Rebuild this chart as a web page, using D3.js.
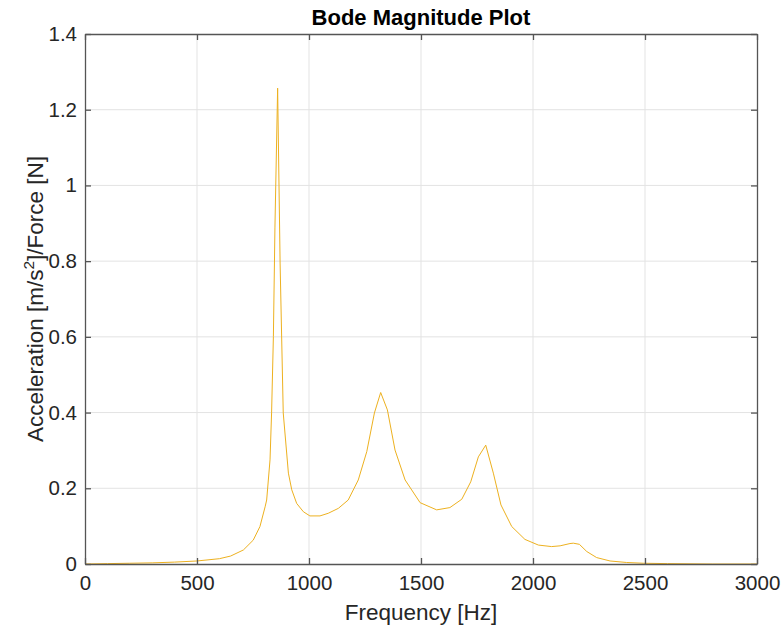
<!DOCTYPE html>
<html>
<head>
<meta charset="utf-8">
<script src="https://cdn.jsdelivr.net/npm/d3@7"></script>
<style>
  html, body { margin: 0; padding: 0; background: #fff; }
  #showBox { width: 782px; height: 634px; }
  text { font-family: "Liberation Sans", Arial, Helvetica, sans-serif; fill: #262626; }
</style>
</head>
<body>
<div id="showBox"></div>
<script>
// frequency samples [Hz] and response magnitude
const freq = [0, 100, 200, 300, 400, 500, 600, 650, 707, 751, 781, 804, 811, 826, 833, 841, 848, 860,
  871, 885, 908, 923, 945, 975, 1004, 1049, 1086, 1131, 1175, 1220, 1258, 1292, 1320, 1350, 1384, 1429,
  1496, 1570, 1629, 1682, 1722, 1756, 1789, 1823, 1857, 1905, 1964, 2024, 2083, 2121, 2165, 2180, 2207,
  2240, 2284, 2344, 2418, 2492, 2600, 2800, 3000];
const mag = [0.000, 0.001, 0.002, 0.003, 0.005, 0.008, 0.014, 0.021, 0.037, 0.063, 0.099, 0.151, 0.169, 0.275, 0.399, 0.600, 0.890, 1.257,
  0.795, 0.399, 0.240, 0.196, 0.160, 0.138, 0.127, 0.127, 0.134, 0.147, 0.169, 0.222, 0.297, 0.399, 0.453, 0.407, 0.301, 0.222,
  0.162, 0.143, 0.149, 0.171, 0.217, 0.283, 0.314, 0.240, 0.156, 0.099, 0.065, 0.050, 0.046, 0.048, 0.054, 0.055, 0.052,
  0.033, 0.017, 0.008, 0.004, 0.002, 0.001, 0.000, 0.000];

const xTicks = [0, 500, 1000, 1500, 2000, 2500, 3000];
const yTicks = [0, 0.2, 0.4, 0.6, 0.8, 1, 1.2, 1.4];

const title = "Bode Magnitude Plot";
const xLabel = "Frequency [Hz]";

const width = 782, height = 634;
const margin = {top: 34, right: 25, bottom: 70, left: 85};

const x = d3.scaleLinear().domain([0, 3000]).range([margin.left, width - margin.right]);
const y = d3.scaleLinear().domain([0, 1.4]).range([height - margin.bottom, margin.top]);

const svg = d3.select("#showBox").append("svg")
    .attr("width", width)
    .attr("height", height);

// grid
svg.append("g")
    .selectAll("line.gx")
    .data(xTicks.slice(1, -1))
    .join("line")
    .attr("x1", d => x(d)).attr("x2", d => x(d))
    .attr("y1", y(0)).attr("y2", y(1.4))
    .attr("stroke", "#e3e3e3").attr("stroke-width", 1);

svg.append("g")
    .selectAll("line.gy")
    .data(yTicks.slice(1, -1))
    .join("line")
    .attr("x1", x(0)).attr("x2", x(3000))
    .attr("y1", d => y(d)).attr("y2", d => y(d))
    .attr("stroke", "#e3e3e3").attr("stroke-width", 1);

// the curve
const line = d3.line()
    .x((d, i) => x(freq[i]))
    .y(d => y(d));

svg.append("path")
    .datum(mag)
    .attr("fill", "none")
    .attr("stroke", "#EDB120")
    .attr("stroke-width", 1)
    .attr("stroke-linejoin", "round")
    .attr("d", line);

// axes, MATLAB style box with inward ticks
const axisColor = "#555";
const tickLen = 6;

const xBottom = svg.append("g")
    .attr("transform", `translate(0,${y(0)})`)
    .call(d3.axisBottom(x).tickValues(xTicks).tickSizeInner(-tickLen).tickSizeOuter(0).tickPadding(11)
        .tickFormat(d => String(d)));

const xTop = svg.append("g")
    .attr("transform", `translate(0,${y(1.4)})`)
    .call(d3.axisTop(x).tickValues(xTicks).tickSizeInner(-tickLen).tickSizeOuter(0).tickFormat(""));

const yLeft = svg.append("g")
    .attr("transform", `translate(${x(0)},0)`)
    .call(d3.axisLeft(y).tickValues(yTicks).tickSizeInner(-tickLen).tickSizeOuter(0).tickPadding(8)
        .tickFormat(d => d3.format("~g")(d)));

const yRight = svg.append("g")
    .attr("transform", `translate(${x(3000)},0)`)
    .call(d3.axisRight(y).tickValues(yTicks).tickSizeInner(-tickLen).tickSizeOuter(0).tickFormat(""));

[xBottom, xTop, yLeft, yRight].forEach(g => {
    g.select(".domain").attr("stroke", axisColor).attr("stroke-width", 1.3);
    g.selectAll(".tick line").attr("stroke", axisColor).attr("stroke-width", 1.3);
    g.selectAll(".tick text")
        .attr("fill", "#262626")
        .style("font-size", "20.5px")
        .style("font-family", "'Liberation Sans', Arial, sans-serif");
});

// labels
svg.append("text")
    .attr("x", (x(0) + x(3000)) / 2)
    .attr("y", 25)
    .attr("text-anchor", "middle")
    .style("font-size", "22px")
    .style("font-weight", "bold")
    .style("fill", "#000")
    .text(title);

svg.append("text")
    .attr("x", (x(0) + x(3000)) / 2)
    .attr("y", 620)
    .attr("text-anchor", "middle")
    .style("font-size", "22.5px")
    .text(xLabel);

const yl = svg.append("text")
    .attr("transform", `translate(43,${(y(0) + y(1.4)) / 2}) rotate(-90)`)
    .attr("text-anchor", "middle")
    .style("font-size", "22.5px");
yl.append("tspan").text("Acceleration [m/s");
yl.append("tspan").attr("dy", -9).style("font-size", "15.5px").text("2");
yl.append("tspan").attr("dy", 9).text("]/Force [N]");
</script>
</body>
</html>
